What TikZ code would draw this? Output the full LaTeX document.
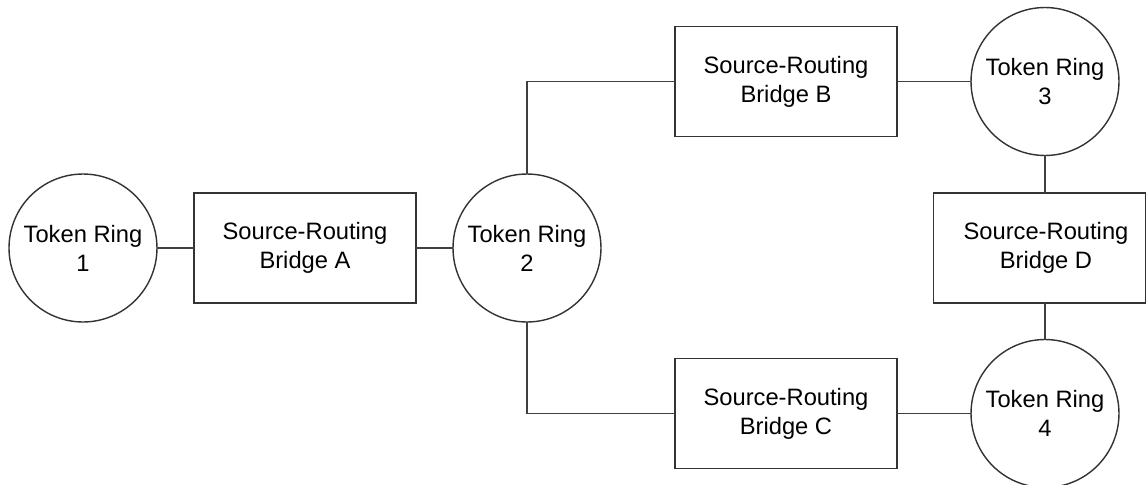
\documentclass[tikz,border=0pt]{standalone}
\usepackage{fontspec}
\setmainfont{Liberation Sans}
\tikzset{
  ring/.style={circle, draw=black!80, line width=0.8pt, minimum size=2.96cm, inner sep=0pt, outer sep=0pt, align=center, font=\fontsize{13.5}{16.5}\selectfont},
  bridge/.style={rectangle, draw=black!80, line width=0.8pt, minimum width=4.44cm, minimum height=2.2cm, inner sep=0pt, outer sep=0pt, align=center, font=\fontsize{13.5}{16.5}\selectfont},
  link/.style={draw=black!75, line width=0.8pt}
}
\begin{document}
\begin{tikzpicture}[x=0.02cm, y=-0.02cm]
	\useasboundingbox (0,0) rectangle (1147,484);
	% rings and bridges
	\node[ring] (r1) at (83,248) {Token Ring\\1};
	\node[bridge] (ba) at (305,248) {Source-Routing\\Bridge A};
	\node[ring] (r2) at (527,248) {Token Ring\\2};
	\node[bridge] (bb) at (786,81.5) {Source-Routing\\Bridge B};
	\node[bridge] (bc) at (786,413.5) {Source-Routing\\Bridge C};
	\node[ring] (r3) at (1045,81.5) {Token Ring\\3};
	\node[bridge, minimum width=4.24cm] (bd) at (1039.5,248) {\hspace*{0.26cm}Source-Routing\\\hspace*{0.26cm}Bridge D};
	\node[ring] (r4) at (1045,413.5) {Token Ring\\4};
	% links
	\draw[link] (r1) -- (ba);
	\draw[link] (ba) -- (r2);
	\draw[link] (r2.north) |- (bb.west);
	\draw[link] (r2.south) |- (bc.west);
	\draw[link] (bb) -- (r3);
	\draw[link] (bc) -- (r4);
	\draw[link] (r3.south) -- (r3.south |- bd.north);
	\draw[link] (r4.north |- bd.south) -- (r4.north);
\end{tikzpicture}
\end{document}
